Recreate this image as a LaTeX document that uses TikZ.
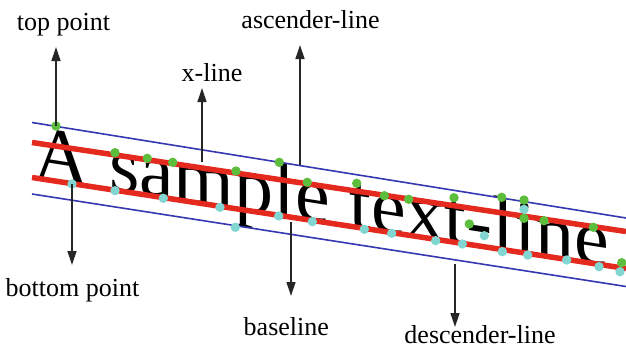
\documentclass[tikz,border=0pt]{standalone}
\usepackage{fontspec}
\setmainfont{Liberation Serif}
\usetikzlibrary{arrows.meta}

\definecolor{lineblue}{HTML}{3538B0}
\definecolor{linered}{HTML}{E42A1E}
\definecolor{dotgreen}{HTML}{5CBE3C}
\definecolor{dotcyan}{HTML}{82D6D2}

\begin{document}
\begin{tikzpicture}[
  x=1pt, y=1pt,
  % Line and dot styles
  blueline/.style={draw=lineblue, line width=1.6pt},
  redline/.style={draw=linered, line width=5.5pt},
  topdot/.style={circle, fill=dotgreen, inner sep=0pt, minimum size=9.4pt},
  botdot/.style={circle, fill=dotcyan, inner sep=0pt, minimum size=9.4pt},
  lbl/.style={anchor=base, inner sep=0pt, font=\fontsize{26pt}{30pt}\selectfont},
  arr/.style={-{Triangle[length=14pt, width=9pt]}, draw=black!85, line width=1.3pt},
]
\useasboundingbox (0,0) rectangle (626,-356);

% === Sample text, sheared along the slope ===
\node[anchor=base west, inner sep=0pt, yslant=-0.155,
  font=\fontsize{78pt}{80pt}\selectfont] (sample) at (33,-178) {A sample text-line};

% === Ascender, x-, base- and descender lines ===
\coordinate (ascL) at (32,-122.5);  \coordinate (ascR) at (626,-218);
\coordinate (xlnL) at (32,-142.5);  \coordinate (xlnR) at (626,-231.5);
\coordinate (basL) at (32,-177.5);  \coordinate (basR) at (626,-268.5);
\coordinate (dscL) at (32,-194);    \coordinate (dscR) at (626,-286.5);
\draw[blueline] (ascL) -- (ascR);
\draw[redline] (xlnL) -- (xlnR);
\draw[redline] (basL) -- (basR);
\draw[blueline] (dscL) -- (dscR);

% === Top points (green) ===
\foreach \px/\py [count=\i] in {56/126, 115/152.7, 147.3/158.3, 172.7/162.3,
    236/171, 279.3/162.3, 307.3/182.3, 356.7/183.3, 384.3/195.7, 408.7/199.3,
    454/197.7, 469.3/224, 501.7/197.3, 524/200, 524/218.3, 544/220.7,
    593.3/227.3, 621.7/262.7}
  \node[topdot] (t\i) at (\px,-\py) {};

% === Bottom points (cyan) ===
\foreach \px/\py [count=\i] in {72/184, 115/190.7, 163.3/198.3, 220/207.3,
    235.3/227.3, 278.7/216, 312.3/221.7, 364.3/229.3, 391.7/233.3,
    435.7/240.7, 462.3/244, 484.3/235.7, 502.3/251.7, 524/209.3, 527.7/255,
    566.7/260, 599/266.7, 620/271.7}
  \node[botdot] (b\i) at (\px,-\py) {};

% === Labels ===
\node[lbl] (toplbl) at (63.4,-30) {top point};
\node[lbl] (asclbl) at (310.5,-28.3) {ascender-line};
\node[lbl] (xlbl) at (212,-81.7) {x-line};
\node[lbl] (botlbl) at (72.5,-296.7) {bottom point};
\node[lbl] (baslbl) at (286.3,-335) {baseline};
\node[lbl] (dsclbl) at (480,-343.3) {descender-line};

% === Arrow ends ===
\coordinate (topEnd) at (56,-47);
\coordinate (xStart) at (202,-162);   \coordinate (xEnd) at (202,-88);
\coordinate (ascStart) at (300,-165); \coordinate (ascEnd) at (300,-45);
\coordinate (botEnd) at (72,-265);
\coordinate (basStart) at (291,-222); \coordinate (basEnd) at (291,-296);
\coordinate (dscStart) at (455,-264); \coordinate (dscEnd) at (455,-327);

% === Arrows ===
\draw[arr] (t1.center) -- (topEnd);
\draw[arr] (xStart) -- (xEnd);
\draw[arr] (ascStart) -- (ascEnd);
\draw[arr] (b1.center) -- (botEnd);
\draw[arr] (basStart) -- (basEnd);
\draw[arr] (dscStart) -- (dscEnd);

\end{tikzpicture}
\end{document}
